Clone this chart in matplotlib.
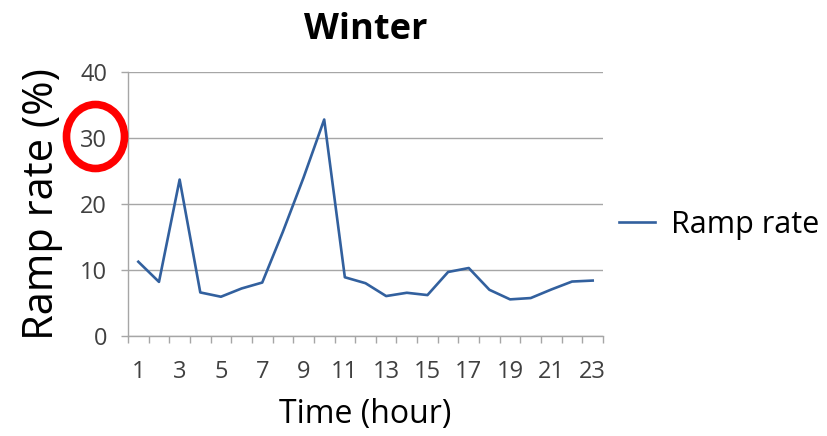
import matplotlib.pyplot as plt
from matplotlib.patches import Ellipse

plt.rcParams['font.family'] = ['Open Sans', 'DejaVu Sans']

hours = list(range(1, 24))
ramp = [11.25, 8.2, 23.7, 6.6, 5.95, 7.2, 8.1, 15.8, 24.0, 32.8, 8.9, 8.0,
        6.05, 6.55, 6.2, 9.7, 10.3, 7.0, 5.55, 5.75, 7.05, 8.25, 8.4]
yticks = [0, 10, 20, 30, 40]
xlabels = [str(h) for h in hours if h % 2 == 1]

fig = plt.figure(figsize=(8.28, 4.36), dpi=100)
ax = fig.add_axes([128 / 828, 100 / 436, 475 / 828, 264 / 436])

ax.plot(hours, ramp, color='#32609e', lw=1.9, label='Ramp rate')

ax.set_xlim(0.5, 23.5)
ax.set_ylim(0, 40)
ax.set_yticks(yticks)
ax.set_xticks([h for h in hours if h % 2 == 1])
ax.set_xticklabels(xlabels)
ax.set_xticks([h + 0.5 for h in range(0, 24)], minor=True)
ax.tick_params(axis='x', which='major', length=0, pad=17, labelsize=17, labelcolor='#404040')
ax.tick_params(axis='x', which='minor', length=5, color='#a6a6a6', width=1)
ax.tick_params(axis='y', length=5, color='#a6a6a6', width=1, pad=10, labelsize=17, labelcolor='#404040')

ax.grid(axis='y', color='#a6a6a6', lw=1)
ax.set_axisbelow(True)
for side in ['top', 'right']:
    ax.spines[side].set_visible(False)
for side in ['left', 'bottom']:
    ax.spines[side].set_color('#a6a6a6')
    ax.spines[side].set_linewidth(1)

ax.set_title('Winter', fontsize=26, fontweight='bold', pad=24)
ax.set_xlabel('Time (hour)', fontsize=23, labelpad=10)
ax.set_ylabel('Ramp rate (%)', fontsize=30, labelpad=12)

ax.legend(loc='center left', bbox_to_anchor=(0.975, 0.42), frameon=False,
          fontsize=22, handlelength=1.2, handletextpad=0.5)

# red ring around the 30 label
ring = Ellipse((95.5, 436 - 136.5), 58, 64, fill=False, ec='#ff0000', lw=5.5,
               transform=None)
fig.add_artist(ring)

fig.savefig('out.png', dpi=100)
